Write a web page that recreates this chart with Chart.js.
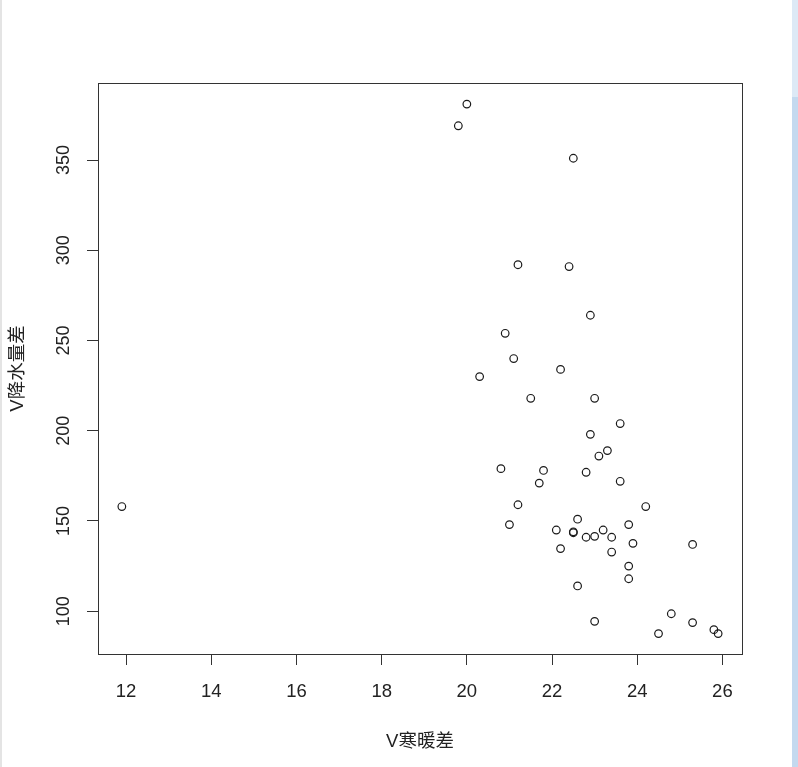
<!DOCTYPE html>
<html>
<head>
<meta charset="utf-8">
<script src="https://cdn.jsdelivr.net/npm/chart.js@4.4.1/dist/chart.umd.min.js"></script>
<style>
    html, body { margin: 0; padding: 0; background: #fff; }
    #wrap { position: relative; width: 798px; height: 767px; overflow: hidden; }
    #edgeLeft { position: absolute; left: 0; top: 0; width: 2px; height: 767px; background: #e4e4e4; }
    #edgeRight { position: absolute; left: 792px; top: 0; width: 6px; height: 767px; background: #c4d9ef; }
    #edgeRightTop { position: absolute; left: 792px; top: 0; width: 6px; height: 97px; background: #dde9f6; }
    #plot { position: absolute; left: 0; top: 0; }
</style>
</head>
<body>
<div id="wrap">
    <div id="edgeLeft"></div>
    <div id="edgeRight"></div>
    <div id="edgeRightTop"></div>
    <canvas id="plot" width="798" height="767"></canvas>
</div>
<script>
// V寒暖差 (x) and V降水量差 (y)
const tempDiff = [
    20.0, 19.8, 22.5, 21.2, 22.4, 22.9, 20.9, 21.1, 22.2, 20.3,
    21.5, 23.0, 23.6, 22.9, 23.3, 23.1, 20.8, 21.8, 22.8, 21.7,
    23.6, 21.2, 24.2, 11.9, 21.0, 22.1, 22.6, 22.5, 22.5, 22.8,
    23.0, 23.2, 23.4, 23.8, 23.9, 25.3, 22.2, 23.4, 23.8, 23.8,
    22.6, 24.8, 23.0, 25.3, 24.5, 25.8, 25.9
];
const rainDiff = [
    381, 369, 351, 292, 291, 264, 254, 240, 234, 230,
    218, 218, 204, 198, 189, 186, 179, 178, 177, 171,
    172, 159, 158, 158, 148, 145, 151, 144, 143.5, 141,
    141.5, 145, 141, 148, 137.6, 137, 134.7, 132.8, 125, 118,
    114, 98.6, 94.4, 93.7, 87.6, 89.8, 87.6
];
const xTicks = [12, 14, 16, 18, 20, 22, 24, 26];
const yTicks = [100, 150, 200, 250, 300, 350];

const fontFamily = '"Liberation Sans", Arial, "Noto Sans CJK SC", sans-serif';
const ink = '#222';
const axisColor = '#333';

// R draws a full box around the plot region
const boxPlugin = {
    id: 'box',
    afterDraw(chart) {
        const { ctx, chartArea: a } = chart;
        ctx.save();
        ctx.strokeStyle = axisColor;
        ctx.lineWidth = 1;
        ctx.strokeRect(Math.round(a.left) + 0.5, Math.round(a.top) + 0.5,
            Math.round(a.right - a.left), Math.round(a.bottom - a.top));
        ctx.restore();
    }
};

// y tick labels are vertical in R (las=0), Chart.js won't rotate them on a y axis
const yLabelPlugin = {
    id: 'yLabels',
    afterDraw(chart) {
        const { ctx } = chart;
        const y = chart.scales.y;
        ctx.save();
        ctx.fillStyle = ink;
        ctx.font = '18px ' + fontFamily;
        ctx.textAlign = 'center';
        ctx.textBaseline = 'middle';
        yTicks.forEach(v => {
            ctx.save();
            ctx.translate(64, y.getPixelForValue(v));
            ctx.rotate(-Math.PI / 2);
            ctx.fillText(String(v), 0, 0);
            ctx.restore();
        });
        ctx.restore();
    }
};

const points = tempDiff.map((x, i) => ({ x: x, y: rainDiff[i] }));

new Chart(document.getElementById('plot').getContext('2d'), {
    type: 'scatter',
    data: {
        datasets: [{
            data: points,
            pointRadius: 3.8,
            pointHoverRadius: 3.8,
            pointBorderWidth: 1.2,
            pointBorderColor: '#1a1a1a',
            pointBackgroundColor: 'rgba(0,0,0,0)'
        }]
    },
    options: {
        responsive: false,
        animation: false,
        layout: { padding: { top: 83, right: 56, bottom: 0, left: 0 } },
        plugins: {
            legend: { display: false },
            tooltip: { enabled: false }
        },
        scales: {
            x: {
                type: 'linear',
                min: 11.34,
                max: 26.46,
                afterBuildTicks: s => { s.ticks = xTicks.map(v => ({ value: v })); },
                afterFit: s => { s.height = 113; },
                grid: { drawOnChartArea: false, drawTicks: true, tickLength: 11, color: axisColor },
                border: { display: true, color: axisColor },
                ticks: { font: { family: fontFamily, size: 18.5 }, color: ink, padding: 16 },
                title: {
                    display: true,
                    text: 'V寒暖差',
                    color: ink,
                    font: { family: fontFamily, size: 18.5 },
                    padding: { top: 0, bottom: 14 }
                }
            },
            y: {
                type: 'linear',
                min: 76.3,
                max: 392.7,
                afterBuildTicks: s => { s.ticks = yTicks.map(v => ({ value: v })); },
                afterFit: s => { s.width = 98; },
                grid: { drawOnChartArea: false, drawTicks: true, tickLength: 11, color: axisColor },
                border: { display: true, color: axisColor },
                ticks: { display: false },
                title: {
                    display: true,
                    text: 'V降水量差',
                    color: ink,
                    font: { family: fontFamily, size: 18.5 },
                    padding: { top: 7, bottom: 0 }
                }
            }
        }
    },
    plugins: [boxPlugin, yLabelPlugin]
});
</script>
</body>
</html>
